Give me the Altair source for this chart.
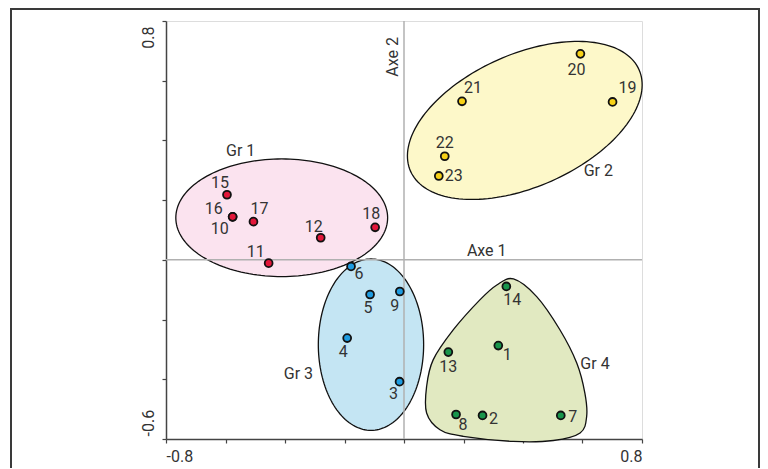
import numpy as np
import pandas as pd
import altair as alt

# ---- data ----
ids = [str(i) for i in range(1, 24)]
xs = [0.317, 0.264, -0.015, -0.191, -0.114, -0.178, 0.527, 0.175, -0.014, -0.576,
      -0.455, -0.280, 0.149, 0.344, -0.595, -0.576, -0.506, -0.097, 0.701, 0.593,
      0.195, 0.137, 0.117]
ys = [-0.287, -0.521, -0.408, -0.262, -0.116, -0.022, -0.521, -0.518, -0.106, 0.144,
      -0.011, 0.074, -0.309, -0.089, 0.218, 0.144, 0.128, 0.109, 0.529, 0.690,
      0.531, 0.347, 0.281]
groups = ["Gr 4", "Gr 4", "Gr 3", "Gr 3", "Gr 3", "Gr 3", "Gr 4", "Gr 4", "Gr 3", "Gr 1",
          "Gr 1", "Gr 1", "Gr 4", "Gr 4", "Gr 1", "Gr 1", "Gr 1", "Gr 1", "Gr 2", "Gr 2",
          "Gr 2", "Gr 2", "Gr 2"]

# label placement (pixel offsets from each point)
lab_dx = [9, 11, -6, -4, -2, 8, 12, 7, -5, -13, -13, -7, 0, 6, -7, -19, 6, -4, 15, -4, 11, 0, 15]
lab_dy = [9, 4, 12, 14, 14, 8, 2, 10, 14, 12, -11, -11, 15, 14, -12, -8, -13, -13, -14, 16, -13, -13, 0]

group_names = ["Gr 1", "Gr 2", "Gr 3", "Gr 4"]
point_colors = ["#e2173a", "#f7d117", "#1e9be0", "#18954b"]
hull_fills = ["#fbe3ef", "#fdf8c9", "#c4e5f3", "#e1e9c1"]
group_label_x = [-0.549, 0.653, -0.355, 0.642]
group_label_y = [0.366, 0.296, -0.382, -0.348]

# ellipse hulls: centre x, centre y, radius x, radius y, rotation (deg)
ellipses = {
    "Gr 1": (-0.411, 0.141, 0.356, 0.197, 0.0),
    "Gr 2": (0.406, 0.467, 0.420, 0.222, 23.85),
    "Gr 3": (-0.111, -0.284, 0.177, 0.287, 0.0),
}
# Gr 4 hull outline (rounded triangle)
gr4_hull_x = [0.368, 0.446, 0.524, 0.581, 0.608, 0.614, 0.592, 0.502, 0.367, 0.199,
              0.121, 0.076, 0.076, 0.098, 0.166, 0.255, 0.312]
gr4_hull_y = [-0.064, -0.123, -0.234, -0.346, -0.446, -0.524, -0.580, -0.605, -0.608, -0.591,
              -0.569, -0.513, -0.424, -0.335, -0.234, -0.134, -0.084]

x_domain = [-0.8, 0.8]
y_domain = [-0.6, 0.8]
x_ticks = [-0.8, -0.6, -0.4, -0.2, 0.0, 0.2, 0.4, 0.6, 0.8]
y_ticks = [-0.6, -0.4, -0.2, 0.0, 0.2, 0.4, 0.6, 0.8]

# ---- layout ----
W, H = 476, 418
PAD_L, PAD_T, PAD_R, PAD_B = 158, 13, 118, 29
ppu_x = W / (x_domain[1] - x_domain[0])
ppu_y = H / (y_domain[1] - y_domain[0])
FONT = "Roboto"
TXT = "#333333"

xscale = alt.Scale(domain=x_domain, nice=False, zero=False)
yscale = alt.Scale(domain=y_domain, nice=False, zero=False)

xaxis = alt.Axis(
    values=x_ticks, grid=False, title=None, tickSize=4, tickColor="#444",
    domainColor="#444", domainWidth=1.5, tickWidth=1.2,
    labelExpr="abs(datum.value) > 0.79 ? replace(format(datum.value, '.1f'), '\u2212', '-') : ''",
    labelFlush=True, labelFont=FONT, labelFontSize=16, labelColor=TXT, labelPadding=5,
)
yaxis = alt.Axis(
    values=y_ticks, grid=False, title=None, tickSize=4, tickColor="#444",
    domainColor="#444", domainWidth=1.5, tickWidth=1.2,
    labelExpr="abs(datum.value - 0.1) > 0.69 ? replace(format(datum.value, '.1f'), '\u2212', '-') : ''",
    labelAngle=270, labelAlign=alt.expr("datum.value > 0 ? 'right' : 'left'"),
    labelBaseline="middle", labelOffset=alt.expr("datum.value > 0 ? 5 : -3"),
    labelFlush=False, labelFont=FONT, labelFontSize=16, labelColor=TXT, labelPadding=14,
)

def X(field):
    return alt.X(f"{field}:Q", scale=xscale, axis=xaxis)

def Y(field):
    return alt.Y(f"{field}:Q", scale=yscale, axis=yaxis)

# frame around the whole panel
frame = alt.Chart(pd.DataFrame({"k": [0]})).mark_rect(
    filled=False, stroke="#3a3a3a", strokeWidth=2
).encode(x=alt.value(3 - PAD_L), x2=alt.value(W + PAD_R - 1),
         y=alt.value(1 - PAD_T), y2=alt.value(H + PAD_B + 20))

# hulls
hull_layers = []
t = np.linspace(0, 2 * np.pi, 160, endpoint=False)
for g, fill in zip(group_names, hull_fills):
    if g in ellipses:
        cx, cy, rx, ry, ang = ellipses[g]
        a = np.deg2rad(ang)
        ex = cx + rx * np.cos(t) * np.cos(a) - ry * np.sin(t) * np.sin(a)
        ey = cy + rx * np.cos(t) * np.sin(a) + ry * np.sin(t) * np.cos(a)
        df = pd.DataFrame({"x": ex, "y": ey, "i": np.arange(len(t))})
        interp = "linear-closed"
    else:
        df = pd.DataFrame({"x": gr4_hull_x, "y": gr4_hull_y, "i": np.arange(len(gr4_hull_x))})
        interp = "cardinal-closed"
    hull_layers.append(
        alt.Chart(df).mark_line(interpolate=interp, fill=fill, stroke="#111", strokeWidth=1.3)
        .encode(x=X("x"), y=Y("y"), order=alt.Order("i:Q"))
    )

# zero lines
vrule = alt.Chart(pd.DataFrame({"x": [0.0], "y": [y_domain[0]], "y2": [y_domain[1]]})).mark_rule(
    color="#b0b0b0", strokeWidth=1.5
).encode(x=X("x"), y=Y("y"), y2="y2:Q")
hrule = alt.Chart(pd.DataFrame({"y": [0.0], "x": [x_domain[0]], "x2": [x_domain[1]]})).mark_rule(
    color="#b0b0b0", strokeWidth=1.5
).encode(y=Y("y"), x=X("x"), x2="x2:Q")

pts = pd.DataFrame({"id": ids, "x": xs, "y": ys, "g": groups})
pts["lx"] = pts["x"] + np.array(lab_dx) / ppu_x
pts["ly"] = pts["y"] - np.array(lab_dy) / ppu_y

points = alt.Chart(pts).mark_point(
    filled=True, size=62, stroke="#111", strokeWidth=1.8, opacity=1, shape="circle"
).encode(
    x=X("x"), y=Y("y"),
    fill=alt.Fill("g:N", scale=alt.Scale(domain=group_names, range=point_colors), legend=None),
)

labels = alt.Chart(pts).mark_text(
    font=FONT, fontSize=16, color=TXT, align="center", baseline="middle"
).encode(x=X("lx"), y=Y("ly"), text="id:N")

glab = pd.DataFrame({"x": group_label_x, "y": group_label_y, "t": group_names})
group_text = alt.Chart(glab).mark_text(
    font=FONT, fontSize=16, color=TXT, align="center", baseline="middle"
).encode(x=X("x"), y=Y("y"), text="t:N")

axe1 = alt.Chart(pd.DataFrame({"x": [0.278], "y": [0.031], "t": ["Axe 1"]})).mark_text(
    font=FONT, fontSize=16, color=TXT, align="center", baseline="middle"
).encode(x=X("x"), y=Y("y"), text="t:N")
axe2 = alt.Chart(pd.DataFrame({"x": [-0.036], "y": [0.680], "t": ["Axe 2"]})).mark_text(
    font=FONT, fontSize=16, color=TXT, align="center", baseline="middle", angle=270
).encode(x=X("x"), y=Y("y"), text="t:N")

chart = alt.layer(
    frame, *hull_layers, vrule, hrule, points, labels, group_text, axe1, axe2
).properties(
    width=W, height=H,
    autosize=alt.AutoSizeParams(type="none"),
    padding={"left": PAD_L, "top": PAD_T, "right": PAD_R, "bottom": PAD_B},
).configure_view(
    stroke="#555", strokeWidth=1.5
).configure(background="white")

chart.save("out.html", embed_options={"renderer": "svg", "actions": False})
